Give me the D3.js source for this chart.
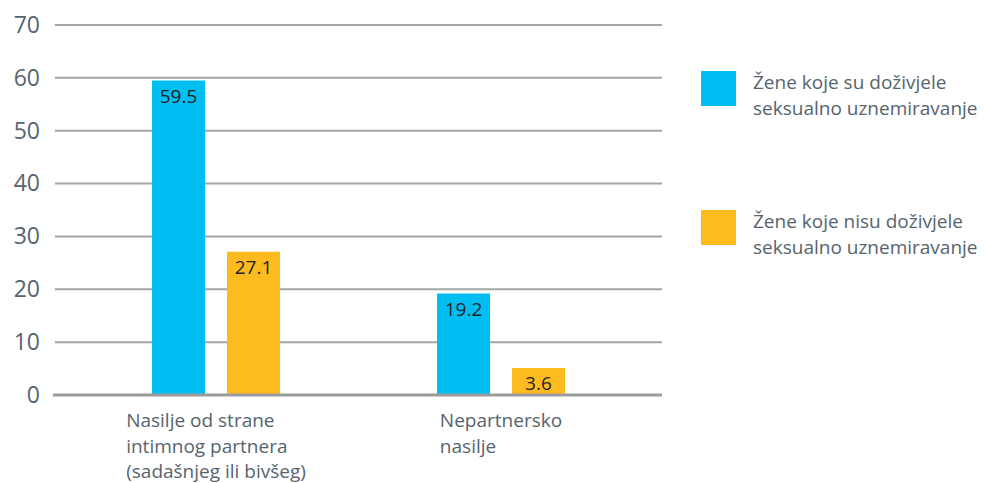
<!DOCTYPE html>
<html>
<head>
<meta charset="utf-8">
<script src="https://cdn.jsdelivr.net/npm/d3@7"></script>
<style>
  body { margin: 0; background: #fff; }
  #chart text { font-family: "Open Sans", sans-serif; }
</style>
</head>
<body>
<div id="chart"></div>
<script>
// data
let categories = [
    ["Nasilje od strane", "intimnog partnera", "(sadašnjeg ili bivšeg)"],
    ["Nepartnersko", "nasilje"]
];
let seriesNames = [
    ["Žene koje su doživjele", "seksualno uznemiravanje"],
    ["Žene koje nisu doživjele", "seksualno uznemiravanje"]
];
let withHarassment = [59.5, 19.2];
let withoutHarassment = [27.1, 3.6];
let yTicks = [0, 10, 20, 30, 40, 50, 60, 70];

let colors = ["#00bdf2", "#fdbb1f"];
let textColor = "#56646e";

let width = 985, height = 483;
let svg = d3.select("#chart").append("svg")
            .attr("width", width)
            .attr("height", height);

let y = d3.scaleLinear().domain([0, 70]).range([395, 25]);

let catIdx = categories.map((c, i) => i);
let x0 = d3.scalePoint().domain(catIdx).range([55, 662]).padding(0.565);
let x1 = d3.scaleBand().domain([0, 1]).range([-64, 64]).paddingInner(0.293);

// gridlines
svg.append("g").selectAll("line")
    .data(yTicks.filter(d => d > 0))
    .join("line")
    .attr("x1", 55).attr("x2", 662)
    .attr("y1", d => y(d)).attr("y2", d => y(d))
    .attr("stroke", "#a3a5a6")
    .attr("stroke-width", 2);

// y axis labels
let yAxis = svg.append("g")
    .attr("transform", "translate(40,0)")
    .call(d3.axisLeft(y).tickValues(yTicks).tickSize(0).tickPadding(0));
yAxis.select(".domain").remove();
yAxis.selectAll("text")
    .style("font-family", "'Open Sans', sans-serif")
    .style("font-size", "23px")
    .attr("fill", textColor);

// bars
let rows = catIdx.map(i => [withHarassment[i], withoutHarassment[i]]);
let minBarPx = 27; // keep labels readable for small values
let groups = svg.append("g").selectAll("g")
    .data(rows)
    .join("g")
    .attr("transform", (d, i) => "translate(" + x0(i) + ",0)");

let cells = groups.selectAll("g")
    .data(d => d.map((v, s) => ({v: v, s: s})))
    .join("g");

cells.append("rect")
    .attr("x", d => x1(d.s))
    .attr("width", x1.bandwidth())
    .attr("y", d => Math.min(y(d.v), y(0) - minBarPx))
    .attr("height", d => Math.max(y(0) - y(d.v), minBarPx))
    .attr("fill", d => colors[d.s]);

cells.append("text")
    .attr("x", d => x1(d.s) + x1.bandwidth() / 2)
    .attr("y", d => Math.min(y(d.v), y(0) - minBarPx) + 22)
    .attr("text-anchor", "middle")
    .style("font-size", "19px")
    .attr("fill", "#222")
    .text(d => d.v);

// baseline
svg.append("line")
    .attr("x1", 53).attr("x2", 662)
    .attr("y1", y(0)).attr("y2", y(0))
    .attr("stroke", "#9a9c9d")
    .attr("stroke-width", 3);

// category labels
categories.forEach((lines, i) => {
    let t = svg.append("text")
        .style("font-size", "19px")
        .attr("fill", textColor);
    lines.forEach((l, j) => {
        t.append("tspan").attr("x", 0).attr("y", 427 + j * 25.5).text(l);
    });
    let w = t.node().getBBox().width;
    t.attr("transform", "translate(" + (x0(i) - w / 2) + ",0)");
});

// legend
let legend = svg.append("g").selectAll("g")
    .data(seriesNames)
    .join("g")
    .attr("transform", (d, i) => "translate(701," + (71 + i * 139) + ")");

legend.append("rect")
    .attr("width", 35).attr("height", 35)
    .attr("fill", (d, i) => colors[i]);

legend.append("text")
    .style("font-size", "19px")
    .attr("fill", textColor)
    .selectAll("tspan")
    .data(d => d)
    .join("tspan")
    .attr("x", 52)
    .attr("y", (d, j) => 18 + j * 26)
    .text(d => d);
</script>
</body>
</html>
